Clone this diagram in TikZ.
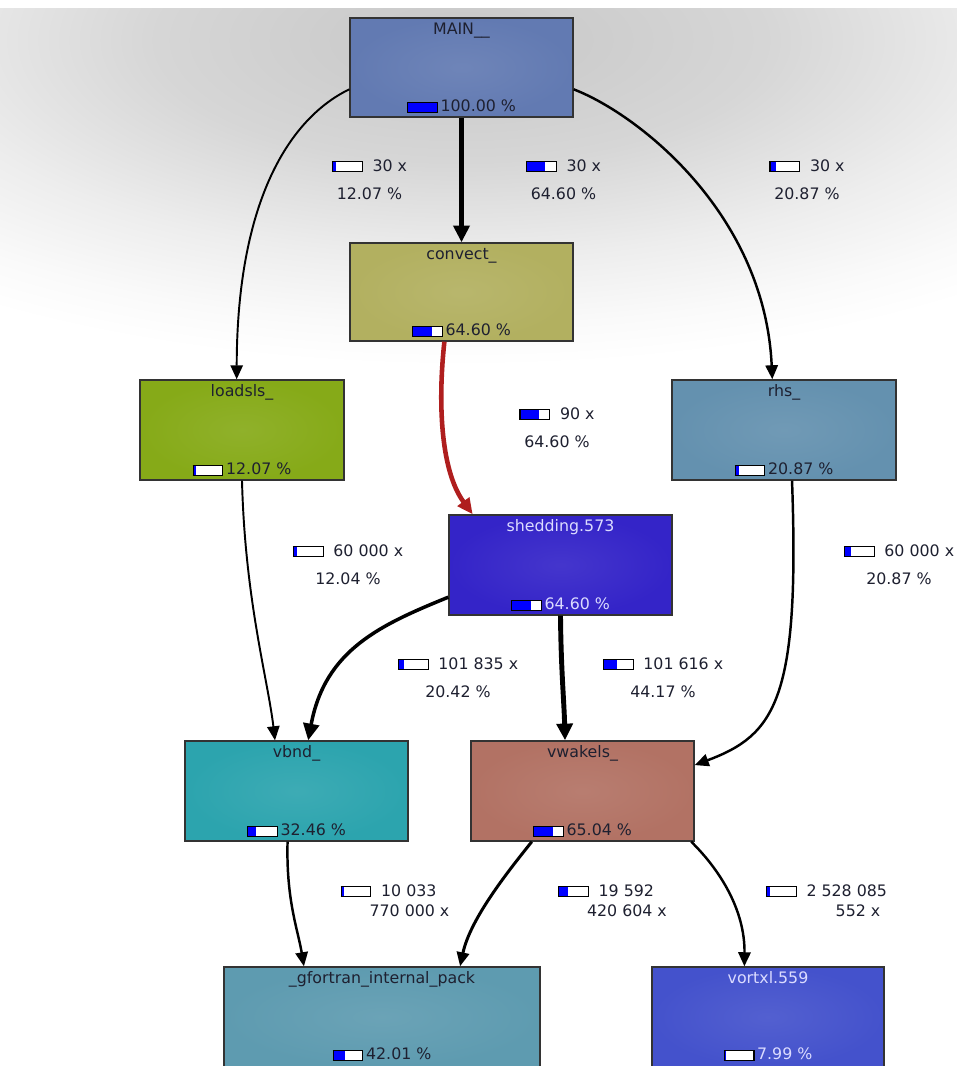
\documentclass[tikz,border=0pt]{standalone}
\usepackage{fontspec}
\setmainfont{DejaVu Sans}
\usetikzlibrary{arrows.meta}

\definecolor{mainc}{RGB}{98,122,178}
\definecolor{convc}{RGB}{178,176,96}
\definecolor{loadc}{RGB}{134,170,24}
\definecolor{rhsc}{RGB}{100,145,175}
\definecolor{shedc}{RGB}{52,36,200}
\definecolor{vbndc}{RGB}{44,164,174}
\definecolor{wakec}{RGB}{178,114,100}
\definecolor{packc}{RGB}{94,155,176}
\definecolor{vortc}{RGB}{68,82,204}
\definecolor{hotc}{RGB}{175,30,30}
\definecolor{inkc}{RGB}{30,32,48}

% soft grey glow for the background
\pgfdeclareradialshading{topglow}{\pgfpointorigin}{%
  color(0bp)=(black!22); color(9bp)=(black!16); color(16bp)=(black!7);
  color(21bp)=(black!2); color(24bp)=(white); color(50bp)=(white)}

% cost bar: #1 = blue part in pt (of 16.4pt)
\newcommand{\costbar}[1]{{\color{black}\setlength{\fboxsep}{0pt}\setlength{\fboxrule}{0.6pt}%
  \fbox{\textcolor{blue}{\rule{#1pt}{5pt}}\textcolor{white}{\rule{\dimexpr16.4pt-#1pt\relax}{5pt}}}}}

\begin{document}
\begin{tikzpicture}[
    x=0.02cm, y=-0.02cm,
    fn/.style={
        draw=black!80,
        line width=0.8pt,
        inner color=#1!92!white,
        outer color=#1,
        minimum width=4.46cm,
        minimum height=2cm,
        inner sep=0pt
    },
    ttl/.style={font=\fontsize{9}{11}\selectfont, text=inkc, anchor=base, inner sep=0pt},
    lite/.style={text=white!86!blue},
    elab/.style={font=\fontsize{9}{16}\selectfont, text=inkc, align=center, anchor=north, inner sep=0pt},
    callarr/.style={-{Triangle[length=8pt,width=7pt]}, line width=#1},
    heavyarr/.style={-{Triangle[length=9.5pt,width=9pt]}, line width=#1},
    hotarr/.style={-{Triangle[length=9pt,width=8pt]}, line width=2.6pt, hotc}
]

    \useasboundingbox (0,0) rectangle (957,1066);
    \fill[white] (0,0) rectangle (957,1066);

    % grey glow behind the top
    \begin{scope}
        \clip (0,8) rectangle (957,1066);
        \shade[shading=topglow] (461,40) ellipse [x radius=850, y radius=340];
    \end{scope}

    % Functions
    \node[fn=mainc, minimum height=1.98cm] (main) at (461.5,67.5) {};
    \node[fn=convc, minimum height=1.96cm] (convect) at (461.5,292) {};
    \node[fn=loadc, minimum width=4.08cm] (loadsls) at (242,430) {};
    \node[fn=rhsc, minimum width=4.48cm] (rhs) at (784,430) {};
    \node[fn=shedc] (shedding) at (560.5,565) {};
    \node[fn=vbndc] (vbnd) at (296.5,791) {};
    \node[fn=wakec] (vwakels) at (582.5,791) {};
    \node[fn=packc, minimum width=6.32cm] (gfpack) at (382,1017) {};
    \node[fn=vortc, minimum width=4.64cm] (vortxl) at (768,1017) {};

    % Names and inclusive costs
    \node[ttl] (main-t) at ([yshift=-9.7pt]main.north) {MAIN\_\_};
    \node[ttl] (main-p) at ([yshift=3.4pt]main.south) {\costbar{16.4}\hspace{1.5pt}100.00 \%};
    \node[ttl] (convect-t) at ([yshift=-9.7pt]convect.north) {convect\_};
    \node[ttl] (convect-p) at ([yshift=3.4pt]convect.south) {\costbar{10.5}\hspace{1.5pt}64.60 \%};
    \node[ttl] (loadsls-t) at ([yshift=-9.7pt]loadsls.north) {loadsls\_};
    \node[ttl] (loadsls-p) at ([yshift=3.4pt]loadsls.south) {\costbar{1.5}\hspace{1.5pt}12.07 \%};
    \node[ttl] (rhs-t) at ([yshift=-9.7pt]rhs.north) {rhs\_};
    \node[ttl] (rhs-p) at ([yshift=3.4pt]rhs.south) {\costbar{2}\hspace{1.5pt}20.87 \%};
    \node[ttl, lite] (shedding-t) at ([yshift=-9.7pt]shedding.north) {shedding.573};
    \node[ttl, lite] (shedding-p) at ([yshift=3.4pt]shedding.south) {\costbar{10.5}\hspace{1.5pt}64.60 \%};
    \node[ttl] (vbnd-t) at ([yshift=-9.7pt]vbnd.north) {vbnd\_};
    \node[ttl] (vbnd-p) at ([yshift=3.4pt]vbnd.south) {\costbar{4.5}\hspace{1.5pt}32.46 \%};
    \node[ttl] (vwakels-t) at ([yshift=-9.7pt]vwakels.north) {vwakels\_};
    \node[ttl] (vwakels-p) at ([yshift=3.4pt]vwakels.south) {\costbar{10.5}\hspace{1.5pt}65.04 \%};
    \node[ttl] (gfpack-t) at ([yshift=-9.7pt]gfpack.north) {\_gfortran\_internal\_pack};
    \node[ttl] (gfpack-p) at ([yshift=4.5pt]gfpack.south) {\costbar{6.5}\hspace{1.5pt}42.01 \%};
    \node[ttl, lite] (vortxl-t) at ([yshift=-9.7pt]vortxl.north) {vortxl.559};
    \node[ttl, lite] (vortxl-p) at ([yshift=4.5pt]vortxl.south) {\costbar{1}\hspace{1.5pt}7.99 \%};

    % Calls
    \draw[heavyarr=2.8pt] (main.south) -- (convect.north);
    \draw[callarr=1.1pt] (main.191) .. controls (290,118) and (237,200) .. (loadsls.96);
    \draw[callarr=1.4pt] (main.349) .. controls (640,115) and (765,215) .. (rhs.103);
    \draw[hotarr] (convect.251) .. controls (438,400) and (440,470) .. (shedding.150);
    \draw[callarr=1.1pt] (loadsls.south) .. controls (245,600) and (268,680) .. (vbnd.113);
    \draw[callarr=1.4pt] (rhs.279) .. controls (800,700) and (775,735) .. (vwakels.13);
    \draw[heavyarr=2pt] (shedding.196) .. controls (380,625) and (325,650) .. (vbnd.77);
    \draw[heavyarr=2.8pt] (shedding.south) .. controls (561,670) and (564,700) .. (vwakels.109);
    \draw[callarr=1.4pt] (vbnd.260) .. controls (286,900) and (298,930) .. (gfpack.147);
    \draw[callarr=1.7pt] (vwakels.225) .. controls (505,875) and (470,920) .. (gfpack.33);
    \draw[callarr=1.4pt] (vwakels.335) .. controls (720,870) and (745,910) .. (vortxl.115);

    % Call counts
    \node[elab] (l-load) at (369.5,159) {\costbar{1.5}\hspace{5.5pt}30 x\\12.07 \%};
    \node[elab] (l-conv) at (563.5,159) {\costbar{10.5}\hspace{5.5pt}30 x\\64.60 \%};
    \node[elab] (l-rhs) at (807,159) {\costbar{3}\hspace{5.5pt}30 x\\20.87 \%};
    \node[elab] (l-shed) at (557,407) {\costbar{10.5}\hspace{5.5pt}90 x\\64.60 \%};
    \node[elab] (l-lv) at (348,544) {\costbar{2}\hspace{5.5pt}60 000 x\\12.04 \%};
    \node[elab] (l-rw) at (899,544) {\costbar{3.5}\hspace{5.5pt}60 000 x\\20.87 \%};
    \node[elab] (l-sv) at (458,657) {\costbar{3}\hspace{5.5pt}101 835 x\\20.42 \%};
    \node[elab] (l-sw) at (663,657) {\costbar{7.5}\hspace{5.5pt}101 616 x\\44.17 \%};
    \node[ttl] (l-vg) at (388.5,896) {\costbar{1.5}\hspace{5.5pt}10 033};
    \node[ttl] (l-vg2) at (409.5,916) {770 000 x};
    \node[ttl] (l-wg) at (606,896) {\costbar{5}\hspace{5.5pt}19 592};
    \node[ttl] (l-wg2) at (627,916) {420 604 x};
    \node[ttl] (l-wv) at (826.5,896) {\costbar{1.5}\hspace{5.5pt}2 528 085};
    \node[ttl] (l-wv2) at (858,916) {552 x};

\end{tikzpicture}
\end{document}
